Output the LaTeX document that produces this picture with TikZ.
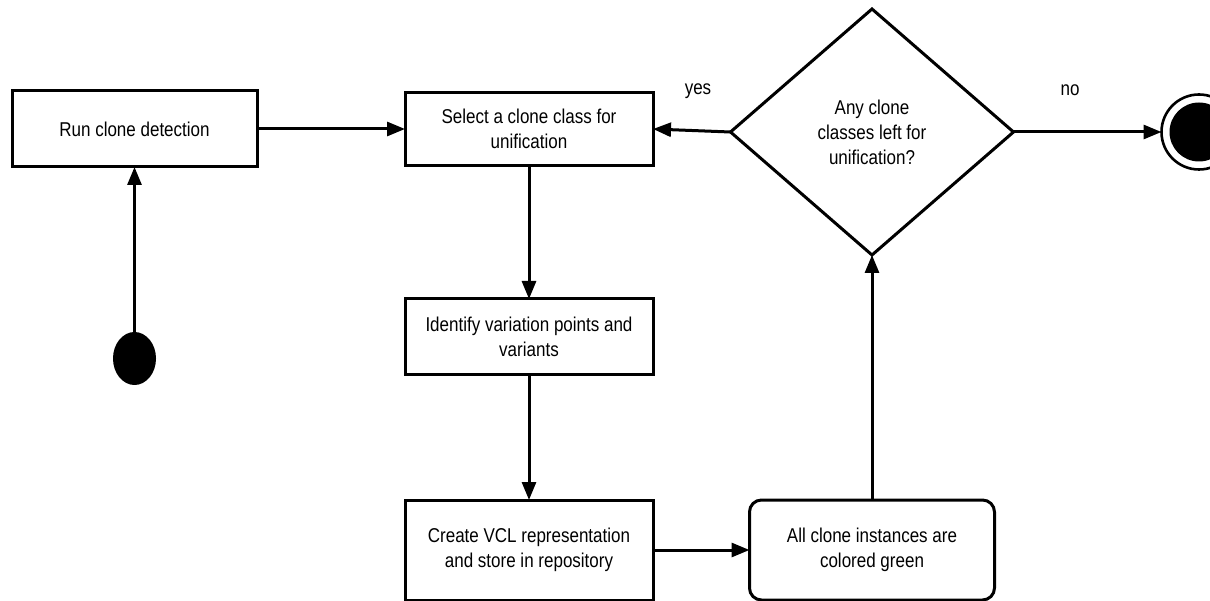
\documentclass[tikz,border=0pt]{standalone}
\usepackage{fontspec}
\setmainfont{Liberation Sans}[FakeStretch=0.85]
\usepackage{tikz}
\usetikzlibrary{positioning}
\usetikzlibrary{shapes.geometric}
\usetikzlibrary{arrows.meta}

\newcommand{\flowfont}{\fontsize{20}{25}\selectfont}

\begin{document}
\begin{tikzpicture}[x=1pt, y=-1pt,
                actbox/.style={rectangle, draw, line width=3pt, outer sep=0pt, align=center, font=\flowfont, minimum width=248pt},
                roundbox/.style={actbox, rounded corners=12pt, minimum width=245pt},
                decnode/.style={diamond, draw, line width=3pt, outer sep=0pt, align=center, font=\flowfont, minimum width=283pt, minimum height=246pt},
                startnode/.style={ellipse, fill=black, outer sep=0pt, minimum width=43pt, minimum height=53pt},
                endring/.style={circle, draw, line width=2.6pt, outer sep=0pt, minimum size=75pt},
                endnode/.style={circle, fill=black, minimum size=59pt},
                flow/.style={line width=3pt, -{Triangle[length=18pt, width=14pt]}},
            ]
            \useasboundingbox (0,0) rectangle (1210,601);

            % Nodes
            \node[actbox, minimum width=245pt, minimum height=76pt]  (run)  at (134.5,129)   {Run clone detection};
            \node[startnode]        (start)     [below=165pt of run]        {};

            \node[actbox, minimum height=73pt]      (select)    [right=148pt of run]      {Select a clone class for\\unification};
            \node[actbox, minimum height=76pt]      (identify)  [below=133.5pt of select]  {Identify variation points and\\variants};
            \node[actbox, minimum height=100pt]     (create)    [below=125pt of identify]  {Create VCL representation\\and store in repository};
            \node[roundbox, minimum height=100pt]   (green)     [right=96.5pt of create]   {All clone instances are\\colored green};

            \node[decnode]          (left)      [above=245pt of green]     {Any clone\\classes left for\\unification?};
            \node[endring]          (final)     [right=148pt of left]      {};
            \node[endnode]          (final_dot) at (final)                 {};

            \node[font=\flowfont]   (yes_label) at (698,91)     {yes};
            \node[font=\flowfont]   (no_label)  at (1070,90)    {no};

            %Lines
            \draw[flow] (start.north) -- (run.south);
            \draw[flow] (run.east) -- (select.west);
            \draw[flow] (select.south) -- (identify.north);
            \draw[flow] (identify.south) -- (create.north);
            \draw[flow] (create.east) -- (green.west);
            \draw[flow] (green.north) -- (left.south);
            \draw[flow] (left.west) -- (select.east);
            \draw[flow] (left.east) -- (final.west);
        \end{tikzpicture}
\end{document}
